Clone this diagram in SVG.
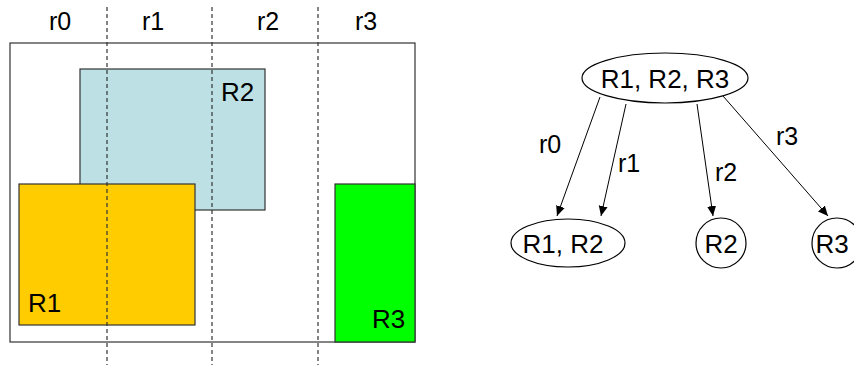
<svg xmlns="http://www.w3.org/2000/svg" width="854" height="365" viewBox="0 0 854 365">
  <style>
    text { font-family: "Liberation Sans", Arial, sans-serif; fill: #000; }
    .lbl { font-size: 25px; }
    .big { font-size: 26px; }
    .box { stroke: #333; stroke-width: 1.2; }
    .div { stroke: #333; stroke-width: 1.2; stroke-dasharray: 4 3; fill: none; }
    .node { fill: #fff; stroke: #000; stroke-width: 1.2; }
    .edge { stroke: #000; stroke-width: 1; fill: none; marker-end: url(#arrow); }
  </style>
  <defs>
    <marker id="arrow" viewBox="0 0 10 10" refX="10" refY="5" markerWidth="10" markerHeight="10" markerUnits="userSpaceOnUse" orient="auto">
      <path d="M0,0.5 L10,5 L0,9.5 Z" fill="#000"/>
    </marker>
  </defs>
  <rect width="854" height="365" fill="#fff"/>

  <!-- spatial layout -->
  <g id="space">
    <rect x="10" y="43" width="405" height="299" fill="#fff" class="box"/>
    <g id="rect-R2">
      <rect x="80" y="69" width="185" height="141" fill="#BCE0E3" class="box"/>
      <text class="big" x="221" y="101">R2</text>
    </g>
    <g id="rect-R1">
      <rect x="19" y="184" width="176" height="141" fill="#FFCC00" class="box"/>
      <text class="big" x="28" y="312">R1</text>
    </g>
    <g id="rect-R3">
      <rect x="335" y="184" width="80" height="158" fill="#00FF00" class="box"/>
      <text class="big" x="372" y="328">R3</text>
    </g>
    <g id="dividers">
      <line class="div" x1="107" y1="7" x2="107" y2="365"/>
      <line class="div" x1="212" y1="7" x2="212" y2="365"/>
      <line class="div" x1="318" y1="7" x2="318" y2="365"/>
    </g>
    <g id="strip-labels" text-anchor="middle">
      <text class="lbl" x="60" y="30">r0</text>
      <text class="lbl" x="153" y="30">r1</text>
      <text class="lbl" x="268" y="30">r2</text>
      <text class="lbl" x="366" y="30">r3</text>
    </g>
  </g>

  <!-- tree -->
  <g id="connectors">
    <line class="edge" x1="600" y1="97" x2="557" y2="216"/>
    <line class="edge" x1="626" y1="104" x2="601" y2="216"/>
    <line class="edge" x1="697" y1="104" x2="713" y2="216"/>
    <line class="edge" x1="723" y1="96" x2="828" y2="216"/>
    <text class="lbl" x="539" y="153">r0</text>
    <text class="lbl" x="618" y="172">r1</text>
    <text class="lbl" x="715" y="181">r2</text>
    <text class="lbl" x="776" y="145">r3</text>
  </g>
  <g id="node-root">
    <ellipse class="node" cx="665" cy="78" rx="83" ry="25"/>
    <text class="big" x="665" y="88" text-anchor="middle">R1, R2, R3</text>
  </g>
  <g id="node-R1R2">
    <ellipse class="node" cx="568" cy="243" rx="57" ry="24"/>
    <text class="big" x="563" y="253" text-anchor="middle">R1, R2</text>
  </g>
  <g id="node-R2">
    <circle class="node" cx="721" cy="243" r="25"/>
    <text class="big" x="721" y="253" text-anchor="middle">R2</text>
  </g>
  <g id="node-R3">
    <circle class="node" cx="837" cy="243" r="25"/>
    <text class="big" x="832" y="253" text-anchor="middle">R3</text>
  </g>
</svg>
